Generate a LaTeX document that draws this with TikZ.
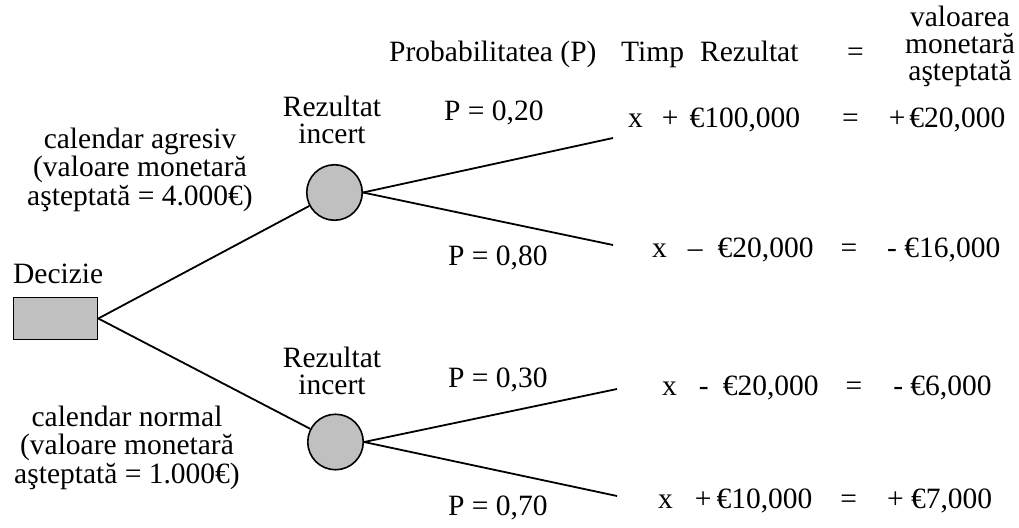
\documentclass[tikz,border=0pt]{standalone}
\usepackage{fontspec}
\setmainfont{Liberation Serif}
\usetikzlibrary{positioning}
\definecolor{chgray}{RGB}{192,192,192}

\begin{document}
\begin{tikzpicture}[
  x=1pt, y=-1pt,
  txt/.style={inner sep=0pt, font=\fontsize{29.5}{28.5}\selectfont},
  chance/.style={draw, line width=1.6pt, circle, fill=chgray, minimum size=55.5pt, inner sep=0pt},
  decbox/.style={draw, line width=1.6pt, fill=chgray, minimum width=84pt, minimum height=42pt, inner sep=0pt},
  branch/.style={line width=1.8pt}
  ]
  \useasboundingbox (0,0) rectangle (1019,527);
  % decision and chance nodes
  \node[decbox] (dec) at (55.5,318.5) {};
  \node[txt, anchor=base west] (declab) at (13,283) {Decizie};
  \node[chance] (c1) at (334.5,192.5) {};
  \node[chance] (c2) at (335.5,442) {};
  \coordinate (e1) at (613,138); \coordinate (e2) at (613,245);
  \coordinate (e3) at (617,389); \coordinate (e4) at (617,496);
  \draw[branch] (dec.east) -- (c1);
  \draw[branch] (dec.east) -- (c2);
  \draw[branch] (c1.east) -- (e1);
  \draw[branch] (c1.east) -- (e2);
  \draw[branch] (c2.east) -- (e3);
  \draw[branch] (c2.east) -- (e4);
  % labels on the left (base = last line)
  \node[txt, align=center, anchor=base] (agr) at (140,205) {calendar agresiv\\(valoare monetară\\aşteptată = 4.000€)};
  \node[txt, align=center, anchor=base] (nor) at (127,483) {calendar normal\\(valoare monetară\\aşteptată = 1.000€)};
  \node[txt, align=center, anchor=base, font=\fontsize{29.5}{26.5}\selectfont] (inc1) at (332,143) {Rezultat\\incert};
  \node[txt, align=center, anchor=base, font=\fontsize{29.5}{26.5}\selectfont] (inc2) at (332,394) {Rezultat\\incert};
  % probabilities
  \node[txt, anchor=base west] (p1) at (444,120) {P = 0,20};
  \node[txt, anchor=base west] (p2) at (448,265) {P = 0,80};
  \node[txt, anchor=base west] (p3) at (448,387) {P = 0,30};
  \node[txt, anchor=base west] (p4) at (448,515) {P = 0,70};
  % header
  \node[txt, anchor=base west] (hprob) at (389,61) {Probabilitatea (P)};
  \node[txt, anchor=base west] (htimp) at (621,61) {Timp};
  \node[txt, anchor=base west] (hrez) at (700,61) {Rezultat};
  \node[txt, anchor=base west] (heq) at (847,61) {=};
  \node[txt, align=center, anchor=base, font=\fontsize{29.5}{26.5}\selectfont] (hval) at (960,80) {valoarea\\monetară\\aşteptată};
  % results
  \node[txt, anchor=base west] (r1) at (628,127) {x\hspace{19pt}+\hspace{11pt}€100,000\hspace{42pt}=\hspace{30pt}+\hspace{4pt}€20,000};
  \node[txt, anchor=base west] (r2) at (652,257) {x\hspace{21pt}–\hspace{15pt}€20,000\hspace{27pt}=\hspace{30pt}- €16,000};
  \node[txt, anchor=base west] (r3) at (662,395) {x\hspace{22pt}-\hspace{14pt}€20,000\hspace{27pt}=\hspace{31pt}- €6,000};
  \node[txt, anchor=base west] (r4) at (658,508) {x\hspace{22pt}+\hspace{5pt}€10,000\hspace{28pt}=\hspace{30pt}+ €7,000};
\end{tikzpicture}
\end{document}
